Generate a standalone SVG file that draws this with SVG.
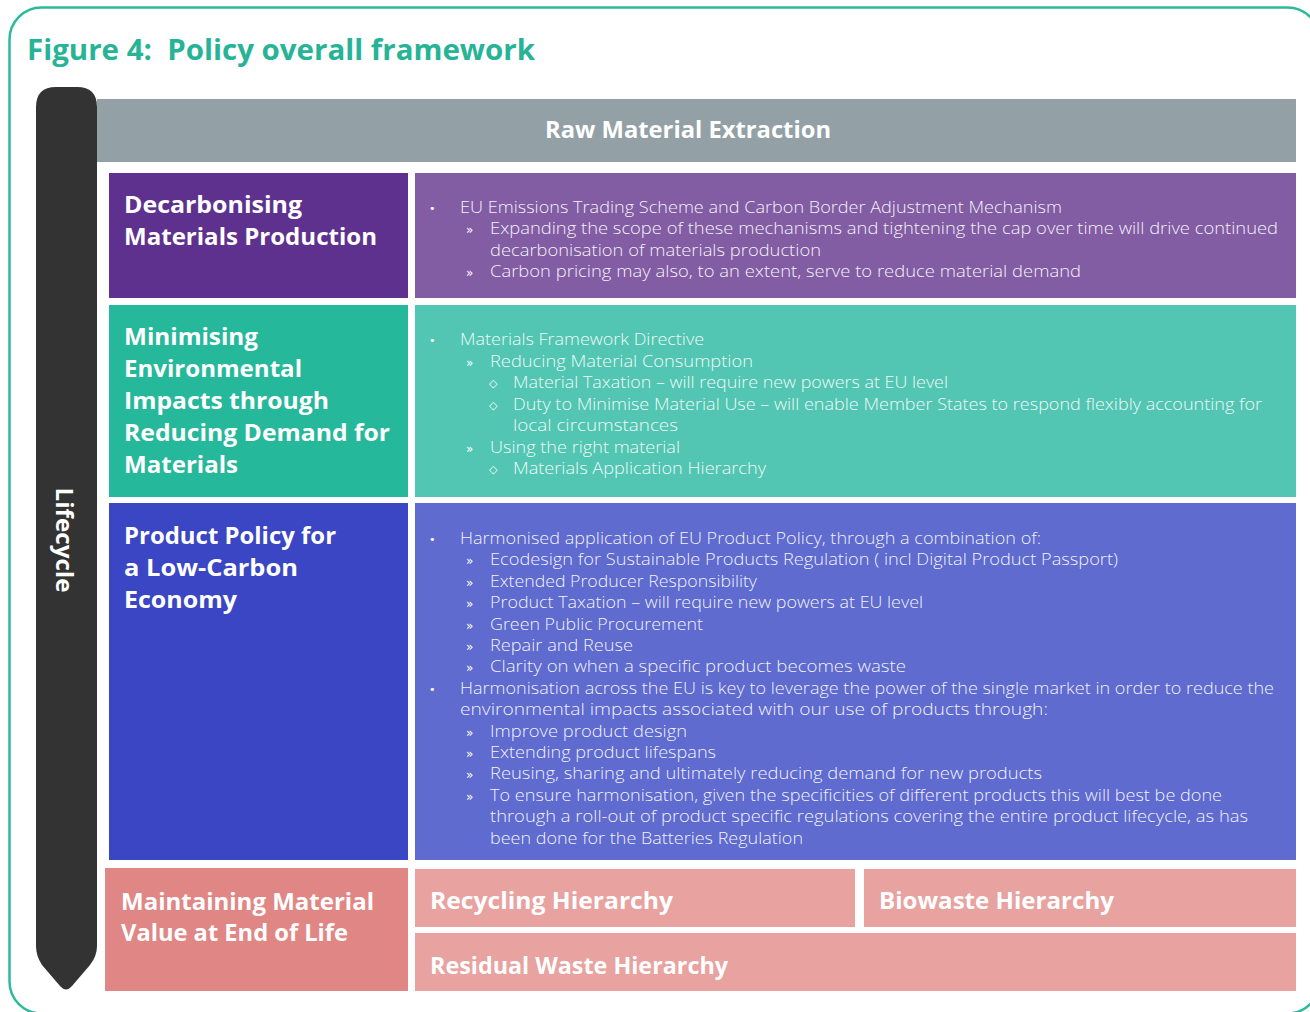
<svg xmlns="http://www.w3.org/2000/svg" width="1310" height="1012" viewBox="0 0 1310 1012">
<style>
.hd{font-family:"Open Sans","Liberation Sans",sans-serif;font-weight:700;fill:#ffffff;font-size:24px}
.tx{font-family:"Open Sans","Liberation Sans",sans-serif;font-weight:300;fill:#ffffff;fill-opacity:0.93;font-size:17px}
.b1{font-family:"DejaVu Sans",sans-serif;fill:#ffffff;font-size:11px}
.b2{font-family:"DejaVu Sans",sans-serif;fill:#ffffff;font-size:12px}
.b3{font-family:"DejaVu Sans",sans-serif;fill:#ffffff;font-size:11px}
</style>
<rect x="0" y="0" width="1310" height="1012" fill="#ffffff"/>
<rect x="9.5" y="7.5" width="1310" height="1006" rx="32" ry="32" fill="none" stroke="#2DB99C" stroke-width="2.5"/>
<text x="27" y="60" font-family="Open Sans, Liberation Sans, sans-serif" font-weight="700" font-size="29" fill="#27B396" textLength="508" lengthAdjust="spacingAndGlyphs" xml:space="preserve">Figure 4:  Policy overall framework</text>

<g id="raw-material-extraction">
<rect x="97" y="99" width="1199" height="63" fill="#93A1A7"/>
<text class="hd" x="688" y="138" text-anchor="middle" font-size="22" textLength="286" lengthAdjust="spacingAndGlyphs">Raw Material Extraction</text>
</g>

<g id="lifecycle">
<path d="M36,107 Q36,87 56,87 L77,87 Q97,87 97,107 L97,946 Q97,956 90,965 L72,986 Q66,993 60,986 L42,965 Q36,956 36,946 Z" fill="#333333"/>
<text class="hd" transform="translate(56,540) rotate(90)" text-anchor="middle" font-size="22" textLength="105" lengthAdjust="spacingAndGlyphs">Lifecycle</text>
</g>

<g id="decarbonising">
<rect x="109" y="173" width="299" height="125" fill="#5E318F"/>
<text class="hd" x="124" y="213" textLength="178" lengthAdjust="spacingAndGlyphs">Decarbonising</text>
<text class="hd" x="124" y="245" textLength="253" lengthAdjust="spacingAndGlyphs">Materials Production</text>
</g>
<g id="decarbonising-detail">
<rect x="415" y="173" width="881" height="125" fill="#835DA4"/>
<text class="b1" x="429" y="212">•</text>
<text class="tx" x="460" y="213" textLength="602" lengthAdjust="spacingAndGlyphs">EU Emissions Trading Scheme and Carbon Border Adjustment Mechanism</text>
<text class="b2" x="466" y="234">»</text>
<text class="tx" x="490" y="234.3" textLength="788" lengthAdjust="spacingAndGlyphs">Expanding the scope of these mechanisms and tightening the cap over time will drive continued</text>
<text class="tx" x="490" y="255.6" textLength="331" lengthAdjust="spacingAndGlyphs">decarbonisation of materials production</text>
<text class="b2" x="466" y="277">»</text>
<text class="tx" x="490" y="277" textLength="591" lengthAdjust="spacingAndGlyphs">Carbon pricing may also, to an extent, serve to reduce material demand</text>
</g>

<g id="minimising">
<rect x="109" y="305" width="299" height="192" fill="#26B89A"/>
<text class="hd" x="124" y="345" textLength="134" lengthAdjust="spacingAndGlyphs">Minimising</text>
<text class="hd" x="124" y="377" textLength="178" lengthAdjust="spacingAndGlyphs">Environmental</text>
<text class="hd" x="124" y="409" textLength="205" lengthAdjust="spacingAndGlyphs">Impacts through</text>
<text class="hd" x="124" y="441" textLength="266" lengthAdjust="spacingAndGlyphs">Reducing Demand for</text>
<text class="hd" x="124" y="473" textLength="114" lengthAdjust="spacingAndGlyphs">Materials</text>
</g>
<g id="minimising-detail">
<rect x="415" y="305" width="881" height="192" fill="#52C6B3"/>
<text class="b1" x="429" y="344">•</text>
<text class="tx" x="460" y="345" textLength="244" lengthAdjust="spacingAndGlyphs">Materials Framework Directive</text>
<text class="b2" x="466" y="366.5">»</text>
<text class="tx" x="490" y="366.5" textLength="263" lengthAdjust="spacingAndGlyphs">Reducing Material Consumption</text>
<text class="b3" x="489" y="387">◇</text>
<text class="tx" x="513" y="388" textLength="435" lengthAdjust="spacingAndGlyphs">Material Taxation – will require new powers at EU level</text>
<text class="b3" x="489" y="409">◇</text>
<text class="tx" x="513" y="409.5" textLength="749" lengthAdjust="spacingAndGlyphs">Duty to Minimise Material Use – will enable Member States to respond flexibly accounting for</text>
<text class="tx" x="513" y="431" textLength="165" lengthAdjust="spacingAndGlyphs">local circumstances</text>
<text class="b2" x="466" y="452.5">»</text>
<text class="tx" x="490" y="452.5" textLength="190" lengthAdjust="spacingAndGlyphs">Using the right material</text>
<text class="b3" x="489" y="473">◇</text>
<text class="tx" x="513" y="474" textLength="253" lengthAdjust="spacingAndGlyphs">Materials Application Hierarchy</text>
</g>

<g id="product-policy">
<rect x="109" y="503" width="299" height="357" fill="#3A46C3"/>
<text class="hd" x="124" y="544" textLength="212" lengthAdjust="spacingAndGlyphs">Product Policy for</text>
<text class="hd" x="124" y="576" textLength="174" lengthAdjust="spacingAndGlyphs">a Low-Carbon</text>
<text class="hd" x="124" y="608" textLength="113" lengthAdjust="spacingAndGlyphs">Economy</text>
</g>
<g id="product-policy-detail">
<rect x="415" y="503" width="881" height="357" fill="#5F6BCF"/>
<text class="b1" x="429" y="543">•</text>
<text class="tx" x="460" y="544" textLength="581" lengthAdjust="spacingAndGlyphs">Harmonised application of EU Product Policy, through a combination of:</text>
<text class="b2" x="466" y="565.4">»</text>
<text class="tx" x="490" y="565.4" textLength="628" lengthAdjust="spacingAndGlyphs">Ecodesign for Sustainable Products Regulation ( incl Digital Product Passport)</text>
<text class="b2" x="466" y="586.8">»</text>
<text class="tx" x="490" y="586.8" textLength="267" lengthAdjust="spacingAndGlyphs">Extended Producer Responsibility</text>
<text class="b2" x="466" y="608.2">»</text>
<text class="tx" x="490" y="608.2" textLength="433" lengthAdjust="spacingAndGlyphs">Product Taxation – will require new powers at EU level</text>
<text class="b2" x="466" y="629.6">»</text>
<text class="tx" x="490" y="629.6" textLength="213" lengthAdjust="spacingAndGlyphs">Green Public Procurement</text>
<text class="b2" x="466" y="651">»</text>
<text class="tx" x="490" y="651" textLength="143" lengthAdjust="spacingAndGlyphs">Repair and Reuse</text>
<text class="b2" x="466" y="672.4">»</text>
<text class="tx" x="490" y="672.4" textLength="416" lengthAdjust="spacingAndGlyphs">Clarity on when a specific product becomes waste</text>
<text class="b1" x="429" y="693">•</text>
<text class="tx" x="460" y="693.8" textLength="814" lengthAdjust="spacingAndGlyphs">Harmonisation across the EU is key to leverage the power of the single market in order to reduce the</text>
<text class="tx" x="460" y="715.2" textLength="588" lengthAdjust="spacingAndGlyphs">environmental impacts associated with our use of products through:</text>
<text class="b2" x="466" y="736.6">»</text>
<text class="tx" x="490" y="736.6" textLength="197" lengthAdjust="spacingAndGlyphs">Improve product design</text>
<text class="b2" x="466" y="758">»</text>
<text class="tx" x="490" y="758" textLength="226" lengthAdjust="spacingAndGlyphs">Extending product lifespans</text>
<text class="b2" x="466" y="779.4">»</text>
<text class="tx" x="490" y="779.4" textLength="552" lengthAdjust="spacingAndGlyphs">Reusing, sharing and ultimately reducing demand for new products</text>
<text class="b2" x="466" y="800.8">»</text>
<text class="tx" x="490" y="800.8" textLength="732" lengthAdjust="spacingAndGlyphs">To ensure harmonisation, given the specificities of different products this will best be done</text>
<text class="tx" x="490" y="822.2" textLength="758" lengthAdjust="spacingAndGlyphs">through a roll-out of product specific regulations covering the entire product lifecycle, as has</text>
<text class="tx" x="490" y="843.6" textLength="313" lengthAdjust="spacingAndGlyphs">been done for the Batteries Regulation</text>
</g>

<g id="end-of-life">
<rect x="105" y="868" width="303" height="123" fill="#E08785"/>
<text class="hd" x="121" y="910" textLength="253" lengthAdjust="spacingAndGlyphs">Maintaining Material</text>
<text class="hd" x="121" y="941" textLength="227" lengthAdjust="spacingAndGlyphs">Value at End of Life</text>
</g>
<g id="recycling-hierarchy">
<rect x="415" y="869" width="440" height="58" fill="#E8A2A0"/>
<text class="hd" x="430" y="909" textLength="243" lengthAdjust="spacingAndGlyphs">Recycling Hierarchy</text>
</g>
<g id="biowaste-hierarchy">
<rect x="864" y="869" width="432" height="58" fill="#E8A2A0"/>
<text class="hd" x="879" y="909" textLength="235" lengthAdjust="spacingAndGlyphs">Biowaste Hierarchy</text>
</g>
<g id="residual-waste-hierarchy">
<rect x="415" y="933" width="881" height="58" fill="#E8A2A0"/>
<text class="hd" x="430" y="974" textLength="298" lengthAdjust="spacingAndGlyphs">Residual Waste Hierarchy</text>
</g>
<g id="connectors"></g>
</svg>
